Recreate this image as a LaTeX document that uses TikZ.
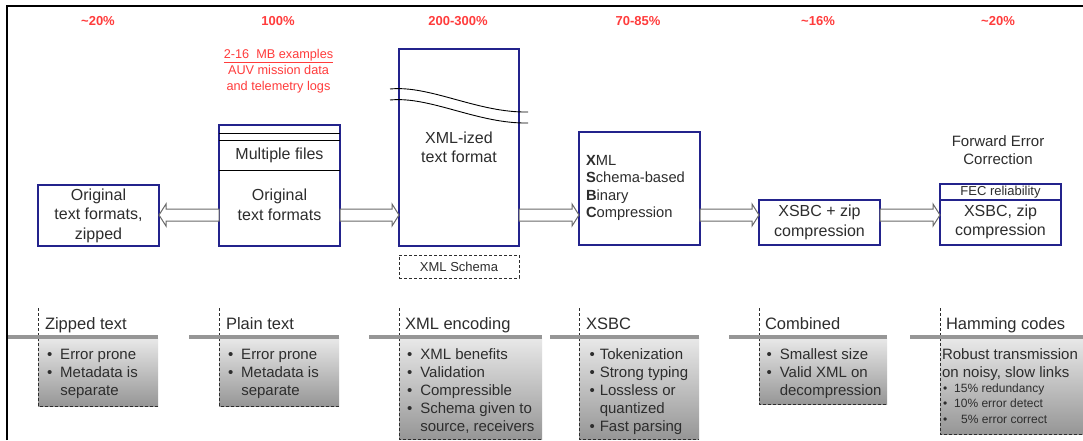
\documentclass[tikz,border=0pt]{standalone}
\usepackage{fontspec}
\setmainfont{Liberation Sans}
\usetikzlibrary{calc}
\definecolor{navy}{RGB}{35,35,140}
\definecolor{pctred}{RGB}{255,60,60}
\definecolor{txt}{RGB}{45,45,45}
\definecolor{arrgray}{RGB}{105,105,105}
\definecolor{barg}{RGB}{150,150,150}
\definecolor{gtop}{RGB}{232,232,232}
\definecolor{gbot}{RGB}{150,150,150}
\begin{document}
\begin{tikzpicture}[x=1pt,y=-1pt,
  every node/.style={inner sep=0pt,outer sep=0pt,text=txt},
  box/.style={draw=navy,line width=1.6pt,fill=white,align=center,font=\fontsize{16}{19.5}\selectfont},
  pct/.style={text=pctred,font=\fontsize{13}{15}\selectfont\bfseries},
  note/.style={text=pctred,align=center,font=\fontsize{12.7}{16}\selectfont},
  fat/.style={draw=arrgray,fill=white,line width=1pt,line join=miter,
    to path={let \p1=(\tikztostart),\p2=(\tikztotarget),\n1={sign(\x2-\x1)} in
      (\x1,\y1+6pt) -- ({\x2-(\n1)*7pt},\y1+6pt) -- ({\x2-(\n1)*7pt},\y1+11pt) -- (\x2,\y1)
      -- ({\x2-(\n1)*7pt},\y1-11pt) -- ({\x2-(\n1)*7pt},\y1-6pt) -- (\x1,\y1-6pt) -- cycle}},
  bar/.style={draw=barg,line width=3.2pt},
  grad/.style={top color=gtop,bottom color=gbot},
  dline/.style={draw=txt,line width=0.9pt,dash pattern=on 3pt off 2pt},
  ttl/.style={anchor=base west,font=\fontsize{16.5}{19}\selectfont},
  lst/.style={anchor=base west,font=\fontsize{15}{18}\selectfont},
]
\useasboundingbox (0,0) rectangle (1083,440);
\fill[white] (0,0) rectangle (1083,440);
% frame
\draw[line width=2pt,black] (7,440) -- (7,6) -- (1083,6);

% percentages
\node[pct] (p1) at (98,21) {\textasciitilde20\%};
\node[pct] (p2) at (278,21) {100\%};
\node[pct] (p3) at (458,21) {200-300\%};
\node[pct] (p4) at (638,21) {70-85\%};
\node[pct] (p5) at (818,21) {\textasciitilde16\%};
\node[pct] (p6) at (998,21) {\textasciitilde20\%};

% red note
\node[note] (nt) at (278.5,71) {\underline{2-16\ \ MB examples}\\AUV mission data\\and telemetry logs};

% level of connectors
\coordinate (lv) at (0,215);

% boxes
\node[box,minimum width=121pt,minimum height=61pt] (b1) at (98.5,215.5) {Original\\text formats,\\zipped};

\node[box,minimum width=121pt,minimum height=121pt] (b2) at (279.5,185.5) {};
\draw[black,line width=0.8pt] (219,133) -- (340,133);
\draw[black,line width=0.8pt] (219,140) -- (340,140);
\draw[black,line width=0.8pt] (219,170) -- (340,170);
\node[font=\fontsize{16}{19.5}\selectfont] (b2t) at (279.5,155) {Multiple files};
\node[align=center,font=\fontsize{16}{19.5}\selectfont] (b2b) at (279.5,205) {Original\\text formats};

\node[box,minimum width=120pt,minimum height=197pt] (b3) at (459,147.5) {XML-ized\\text format};
\draw[black,line width=0.9pt] (390,89) .. controls (430,85) and (478,113) .. (528,112);
\draw[black,line width=0.9pt] (390,100) .. controls (430,96) and (478,124) .. (528,123);
\node[dline,draw,minimum width=120pt,minimum height=23pt,font=\fontsize{13}{15}\selectfont] (xs) at (459,266.5) {XML Schema};

\node[box,minimum width=121pt,minimum height=113pt] (b4) at (639.5,188.5) {};
\node[anchor=west,align=left,font=\fontsize{14.7}{17.6}\selectfont] (b4t) at (586,188)
  {\textbf{X}ML\\\textbf{S}chema-based\\\textbf{B}inary\\\textbf{C}ompression};

\node[box,minimum width=121pt,minimum height=45pt] (b5) at (819.5,222.5) {XSBC + zip\\compression};

\node[box,minimum width=121pt,minimum height=61pt] (b6) at (1000.5,214.5) {};
\draw[navy,line width=1.6pt] (940,200) -- (1061,200);
\node[font=\fontsize{13}{14}\selectfont] (fec) at (1000.5,192.5) {FEC reliability};
\node[align=center,font=\fontsize{16}{19.5}\selectfont] (b6t) at (1000.5,222) {XSBC, zip\\compression};
\node[align=center,font=\fontsize{15}{18}\selectfont] (fwd) at (998,150) {Forward Error\\Correction};

% connectors
\draw[fat] (b2.west |- lv) to (b1.east |- lv);
\draw[fat] (b2.east |- lv) to (b3.west |- lv);
\draw[fat] (b3.east |- lv) to (b4.west |- lv);
\draw[fat] (b4.east |- lv) to (b5.west |- lv);
\draw[fat] (b5.east |- lv) to (b6.west |- lv);

% bottom panels
\shade[grad] (38,338.5) rectangle (158,406);
\shade[grad] (219,338.5) rectangle (339,406);
\shade[grad] (399,338.5) rectangle (542,439);
\shade[grad] (579,338.5) rectangle (699,439);
\shade[grad] (759,338.5) rectangle (887,404);
\shade[grad] (940,338.5) rectangle (1090,434);

\draw[dline] (38,308) -- (38,406) -- (158,406);
\draw[dline] (219,308) -- (219,406) -- (339,406);
\draw[dline] (399,308) -- (399,439) -- (542,439);
\draw[dline] (579,308) -- (579,439) -- (699,439);
\draw[dline] (759,308) -- (759,404) -- (887,404);
\draw[dline] (940,308) -- (940,434) -- (1090,434);

\draw[bar] (8,337) -- (158,337);
\draw[bar] (189,337) -- (339,337);
\draw[bar] (369,337) -- (542,337);
\draw[bar] (550,337) -- (699,337);
\draw[bar] (729,337) -- (887,337);
\draw[bar] (910,337) -- (1090,337);

\node[ttl] (t1) at (45,329.5) {Zipped text};
\node[ttl] (t2) at (226,329.5) {Plain text};
\node[ttl] (t3) at (405,329.5) {XML encoding};
\node[ttl] (t4) at (586,329.5) {XSBC};
\node[ttl] (t5) at (765,329.5) {Combined};
\node[ttl] (t6) at (946,329.5) {Hamming codes};

\node[lst] (l1) at (47,359.5) {\begin{tabular}[t]{@{}l@{\hspace{8pt}}l@{}}\textbullet&Error prone\\\textbullet&Metadata is\\&separate\end{tabular}};
\node[lst] (l2) at (228,359.5) {\begin{tabular}[t]{@{}l@{\hspace{8pt}}l@{}}\textbullet&Error prone\\\textbullet&Metadata is\\&separate\end{tabular}};
\node[lst] (l3) at (407,359.5) {\begin{tabular}[t]{@{}l@{\hspace{8pt}}l@{}}\textbullet&XML benefits\\\textbullet&Validation\\\textbullet&Compressible\\\textbullet&Schema given to\\&source, receivers\end{tabular}};
\node[lst] (l4) at (589.5,359.5) {\begin{tabular}[t]{@{}l@{\hspace{5pt}}l@{}}\textbullet&Tokenization\\\textbullet&Strong typing\\\textbullet&Lossless or\\&quantized\\\textbullet&Fast parsing\end{tabular}};
\node[lst] (l5) at (766.5,359.5) {\begin{tabular}[t]{@{}l@{\hspace{8pt}}l@{}}\textbullet&Smallest size\\\textbullet&Valid XML on\\&decompression\end{tabular}};
\node[lst] (l6) at (942,359.5) {\begin{tabular}[t]{@{}l@{}}Robust transmission\\on noisy, slow links\end{tabular}};
\node[anchor=base west,font=\fontsize{12}{15.7}\selectfont] (l6b) at (943,392) {\begin{tabular}[t]{@{}l@{\hspace{7pt}}l@{}}\textbullet&15\% redundancy\\\textbullet&10\% error detect\\\textbullet&\hspace{7pt}5\% error correct\end{tabular}};
\end{tikzpicture}
\end{document}
